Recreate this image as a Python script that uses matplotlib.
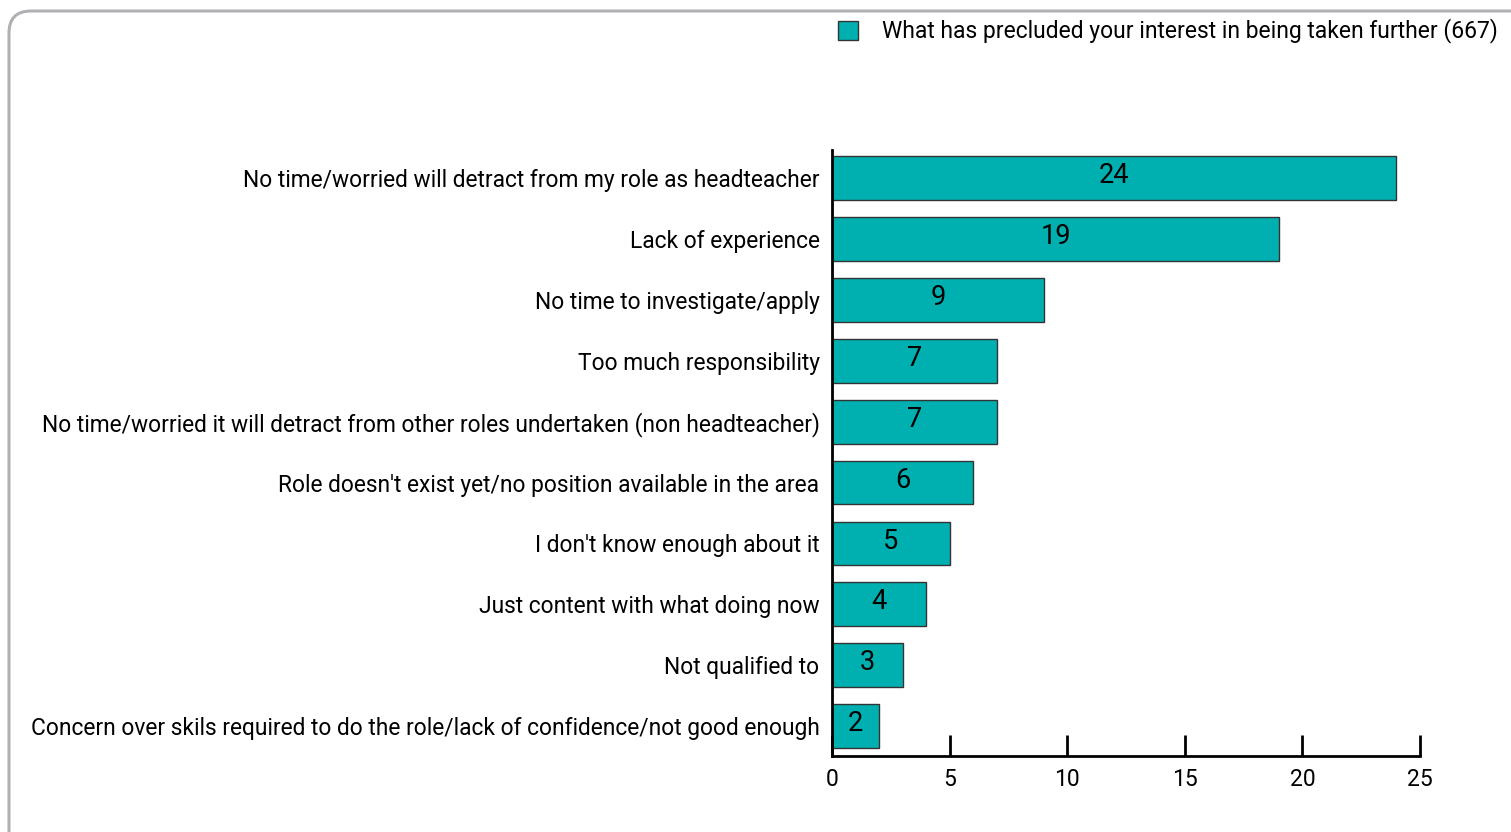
import matplotlib
matplotlib.use("Agg")
import matplotlib.pyplot as plt
from matplotlib.patches import FancyBboxPatch, Rectangle
from matplotlib.transforms import IdentityTransform

plt.rcParams['font.family'] = ['Roboto', 'DejaVu Sans']

reasons = [
    "No time/worried will detract from my role as headteacher",
    "Lack of experience",
    "No time to investigate/apply",
    "Too much responsibility",
    "No time/worried it will detract from other roles undertaken (non headteacher)",
    "Role doesn't exist yet/no position available in the area",
    "I don't know enough about it",
    "Just content with what doing now",
    "Not qualified to",
    "Concern over skils required to do the role/lack of confidence/not good enough",
]
values = [24, 19, 9, 7, 7, 6, 5, 4, 3, 2]
legend_label = "What has precluded your interest in being taken further (667)"
xticks = [0, 5, 10, 15, 20, 25]

bar_color = "#00B0B0"
W, H = 1511, 832

fig = plt.figure(figsize=(W / 100, H / 100), dpi=100)

# rounded outer frame in pixel units, running off the right and bottom edges
frame = FancyBboxPatch((9, -60), W + 60 - 9, H - 11 + 60,
                       boxstyle="round,pad=0,rounding_size=22",
                       transform=IdentityTransform(), facecolor="none",
                       edgecolor="#b0b0b4", linewidth=2.2, zorder=0)
fig.patches.append(frame)

ax = fig.add_axes([832 / W, 76 / H, (1420 - 832) / W, (756 - 150) / H])
ax.set_facecolor("none")

pos = list(range(len(values) - 1, -1, -1))
ax.barh(pos, values, height=0.72, color=bar_color,
        edgecolor="#333333", linewidth=1)
for p, v in zip(pos, values):
    ax.text(v / 2, p + 0.04, str(v), ha="center", va="center",
            fontsize=19.5, color="black")

ax.set_xlim(0, 25)
ax.set_ylim(-0.49, 9.46)
ax.set_yticks(pos)
ax.set_yticklabels(reasons, fontsize=16.4)
ax.tick_params(axis="y", length=0, pad=9)
ax.set_xticks(xticks)
ax.tick_params(axis="x", direction="in", length=15, width=2,
               labelsize=16.5, pad=9)
for s in ["top", "right"]:
    ax.spines[s].set_visible(False)
for s in ["left", "bottom"]:
    ax.spines[s].set_linewidth(2)
    ax.spines[s].set_color("black")

# legend box at the top right
fig.patches.append(Rectangle((838 / W, 1 - 40 / H), 20 / W, 19 / H,
                             transform=fig.transFigure, facecolor=bar_color,
                             edgecolor="#333333", linewidth=1))
fig.text(882 / W, 1 - 31 / H, legend_label, fontsize=16.5,
         ha="left", va="center")

fig.savefig("out.png", dpi=100)
